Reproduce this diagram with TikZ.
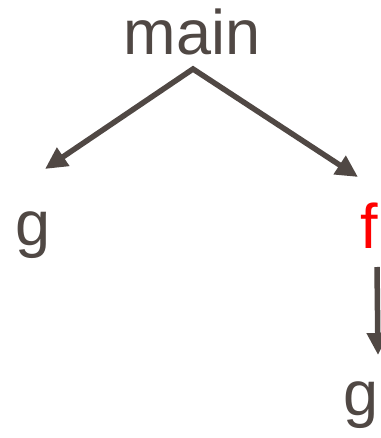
\documentclass[tikz,border=0pt]{standalone}
\usepackage{fontspec}
\setmainfont{Liberation Sans}
\usetikzlibrary{arrows.meta}
\definecolor{ink}{RGB}{80,72,68}
\definecolor{hot}{RGB}{255,0,0}
\begin{document}
\begin{tikzpicture}[x=1pt,y=-1pt,
  lbl/.style={inner sep=0pt, text=ink, font=\fontsize{63}{70}\selectfont},
  tip/.style={Triangle[length=22pt,width=21pt]},
  conn/.style={draw=ink, line width=5.5pt, line join=miter}]
\useasboundingbox (0,0) rectangle (380,438);
\node[lbl, anchor=base] (main) at (192,55) {main};
\node[lbl, anchor=base west] (g1) at (15,245) {g};
\node[lbl, anchor=base west, text=hot] (f) at (360,248) {f};
\node[lbl, anchor=base west] (g2) at (343,415) {g};
\coordinate (apex) at (193,69);
\coordinate (tg) at (45,169);
\coordinate (tf) at (358,177);
\coordinate (fs) at (377,267);
\coordinate (tg2) at (378,355);
\draw[conn, {Triangle[length=22pt,width=21pt]}-{Triangle[length=22pt,width=21pt]}] (tg) -- (apex) -- (tf);
\draw[conn, -{Triangle[length=22pt,width=21pt]}] (fs) -- (tg2);
\end{tikzpicture}
\end{document}
